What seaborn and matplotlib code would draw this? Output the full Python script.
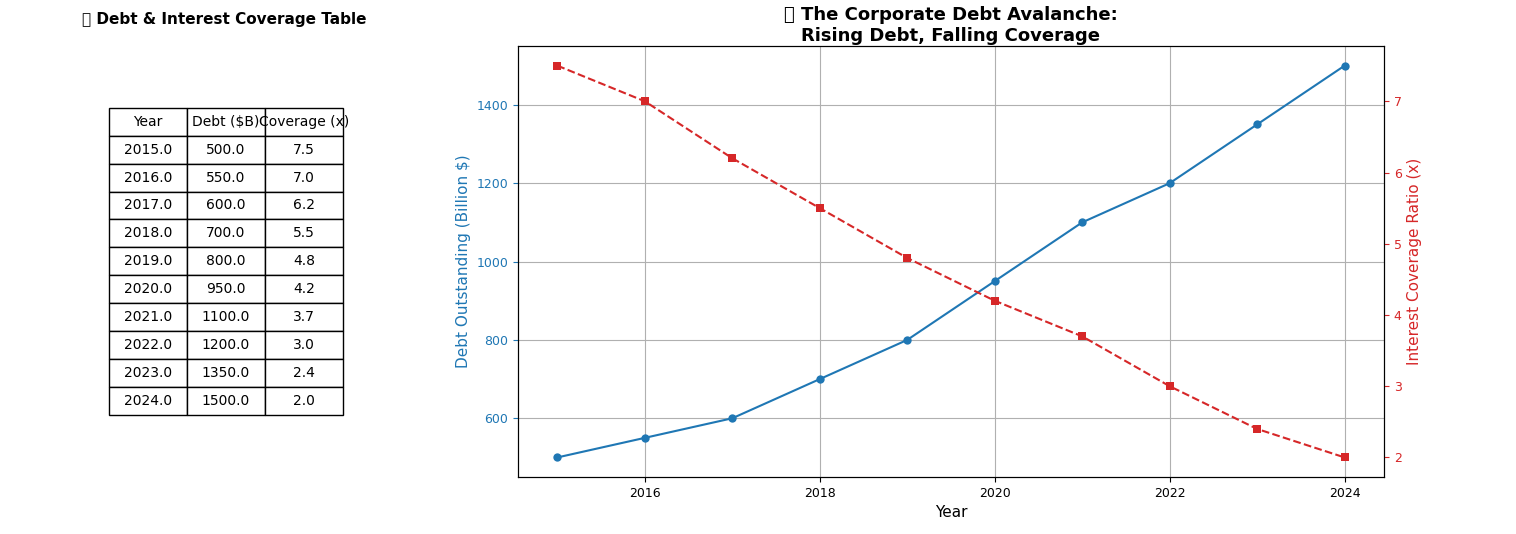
import matplotlib
matplotlib.use("Agg")
import matplotlib.pyplot as plt
import seaborn as sns
import pandas as pd

years = [2015, 2016, 2017, 2018, 2019, 2020, 2021, 2022, 2023, 2024]
debt = [500, 550, 600, 700, 800, 950, 1100, 1200, 1350, 1500]
coverage = [7.5, 7.0, 6.2, 5.5, 4.8, 4.2, 3.7, 3.0, 2.4, 2.0]
col_labels = ["Year", "Debt ($B)", "Coverage (x)"]

df = pd.DataFrame({"Year": years, "Debt": debt, "Coverage": coverage})

fig = plt.figure(figsize=(15.16, 5.34), dpi=100)

# Table
axt = fig.add_axes([0.056, 0.1, 0.184, 0.84])
axt.axis("off")
cells = [[f"{float(y):.1f}", f"{float(d):.1f}", f"{float(c):.1f}"] for y, d, c in zip(years, debt, coverage)]
tbl = axt.table(cellText=cells, colLabels=col_labels, loc="center", cellLoc="center",
                bbox=[0.086, 0.147, 0.839, 0.684])
tbl.auto_set_font_size(False)
tbl.set_fontsize(10)
axt.set_title("\U0001F4CA Debt & Interest Coverage Table", fontsize=11, fontweight="bold")

# Main chart
ax = fig.add_axes([0.3417, 0.1067, 0.5712, 0.807])
blue = "#1f77b4"
red = "#d62728"
sns.lineplot(data=df, x="Year", y="Debt", ax=ax, color=blue, marker="o", markersize=6,
             markeredgewidth=0, linewidth=1.5)
ax.set_ylabel("Debt Outstanding (Billion $)", color=blue, fontsize=11)
ax.set_xlabel("Year", fontsize=11)
ax.tick_params(axis="y", colors=blue, labelsize=9)
ax.tick_params(axis="x", labelsize=9)
ax.grid(True)
ax.set_xticks([2016, 2018, 2020, 2022, 2024])

ax2 = ax.twinx()
sns.lineplot(data=df, x="Year", y="Coverage", ax=ax2, color=red, marker="s", markersize=6,
             markeredgewidth=0, linewidth=1.5, linestyle="--")
ax2.set_ylabel("Interest Coverage Ratio (x)", color=red, fontsize=11)
ax2.tick_params(axis="y", colors=red, labelsize=9)
ax2.set_xlabel("")

ax.set_title("\U0001F4C9 The Corporate Debt Avalanche:\nRising Debt, Falling Coverage",
             fontsize=13, fontweight="bold", pad=4)

fig.savefig("out.png", dpi=100)
